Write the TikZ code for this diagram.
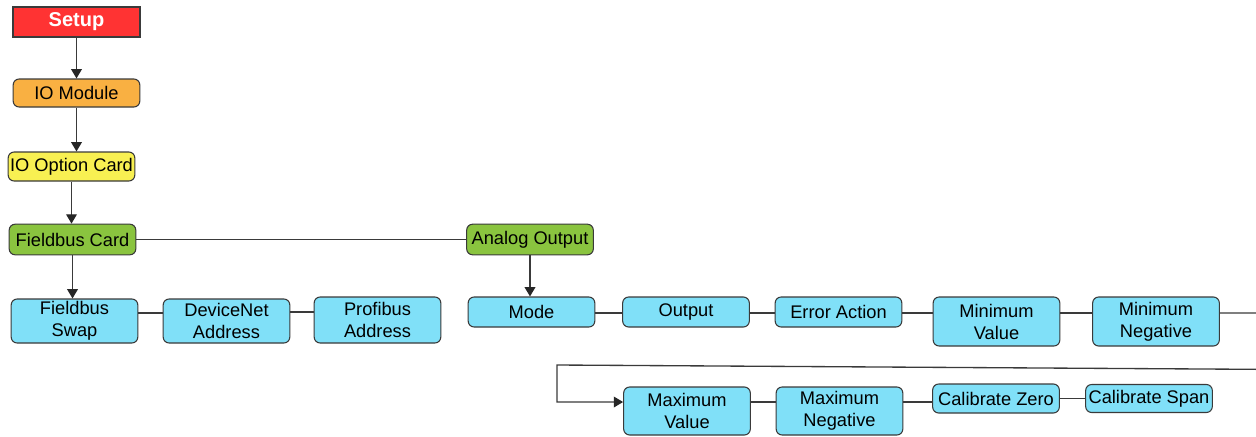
\documentclass[tikz,border=0pt]{standalone}
\usepackage{fontspec}
\setmainfont{Liberation Sans}
\usetikzlibrary{arrows.meta}
\definecolor{setupred}{HTML}{FF3333}
\definecolor{modorange}{HTML}{F9B042}
\definecolor{cardyellow}{HTML}{F8F052}
\definecolor{busgreen}{HTML}{8AC43F}
\definecolor{itemcyan}{HTML}{80E0F8}
\definecolor{edgegray}{HTML}{3A3A3A}
\tikzset{
  menu/.style={draw=edgegray, line width=0.8pt, rounded corners=4.5pt, align=center,
    minimum width=95pt, inner sep=1pt, font=\fontsize{13.7}{16.5}\selectfont},
  leaf/.style={menu, fill=itemcyan},
  link/.style={draw=edgegray, line width=1pt},
  arrowlink/.style={link, -{Triangle[length=7pt,width=8pt,fill=black!85,color=black!85]}},
}
\begin{document}
\begin{tikzpicture}[x=0.75pt, y=-0.75pt]
\useasboundingbox (0,0) rectangle (1256,436);

\node[menu, fill=setupred, rounded corners=0pt, line width=1.2pt, minimum height=22.5pt, text=white, font=\fontsize{15}{17}\selectfont\bfseries] (setup) at (76.5,22) {Setup};
\node[menu, fill=modorange, minimum height=21pt] (iomod) at (76.5,93) {IO Module};
\node[menu, fill=cardyellow, minimum height=21.75pt] (iocard) at (71.5,166.5) {IO Option Card};
\node[menu, fill=busgreen, minimum height=23pt] (fbcard) at (72.5,239.5) {Fieldbus Card};
\node[menu, fill=busgreen, minimum height=23pt] (analog) at (530,239.5) {Analog Output};

\node[leaf, minimum height=33pt] (fbswap) at (74.5,321) {Fieldbus\\Swap};
\node[leaf, minimum height=33pt] (devnet) at (226.5,321) {DeviceNet\\Address};
\node[leaf, minimum height=34.5pt] (profibus) at (377.5,320) {Profibus\\Address};

\node[leaf, minimum height=22.5pt] (mode) at (531.5,312) {Mode};
\node[leaf, minimum height=22.5pt] (output) at (686,312) {Output};
\node[leaf, minimum height=22.5pt] (erraction) at (838.5,312) {Error Action};
\node[leaf, minimum height=36.75pt] (minval) at (996.5,321.5) {Minimum\\Value};
\node[leaf, minimum height=36.75pt] (minneg) at (1156,321.5) {Minimum\\Negative};

\node[leaf, minimum height=36pt] (maxval) at (687,411) {Maximum\\Value};
\node[leaf, minimum height=36pt] (maxneg) at (839.5,411) {Maximum\\Negative};
\node[leaf, minimum height=21.75pt] (calzero) at (996,398.5) {Calibrate Zero};
\node[leaf, minimum height=21pt] (calspan) at (1149,398.5) {Calibrate Span};

% rows and wrap-around
\coordinate (rowA) at (0,313);
\coordinate (rowB) at (0,402);
\coordinate (wrapR) at (1300,313);
\coordinate (wrapB) at (1300,369.6);
\coordinate (wrapL) at (557,365);

\draw[arrowlink] (setup.south) -- (setup.south |- iomod.north);
\draw[arrowlink] (iomod.south) -- (iomod.south |- iocard.north);
\draw[arrowlink] (iocard.south) -- (iocard.south |- fbcard.north);
\draw[arrowlink] (fbcard.south) -- (fbcard.south |- fbswap.north);
\draw[link] (fbcard.east) -- (analog.west);
\draw[arrowlink] (analog.south) -- (analog.south |- mode.north);

\draw[link] (fbswap.east |- rowA) -- (devnet.west |- rowA);
\draw[link] (devnet.east |- 0,312) -- (profibus.west |- 0,312);

\draw[link] (mode.east |- rowA) -- (output.west |- rowA);
\draw[link] (output.east |- rowA) -- (erraction.west |- rowA);
\draw[link] (erraction.east |- rowA) -- (minval.west |- rowA);
\draw[link] (minval.east |- rowA) -- (minneg.west |- rowA);
\draw[arrowlink] (minneg.east |- rowA) -- (wrapR) -- (wrapB) -- (wrapL) |- (maxval.west |- rowB);

\draw[link] (maxval.east |- rowB) -- (maxneg.west |- rowB);
\draw[link] (maxneg.east |- rowB) -- (calzero.west |- rowB);
\draw[link] (calzero.east) -- (calspan.west);
\end{tikzpicture}
\end{document}
